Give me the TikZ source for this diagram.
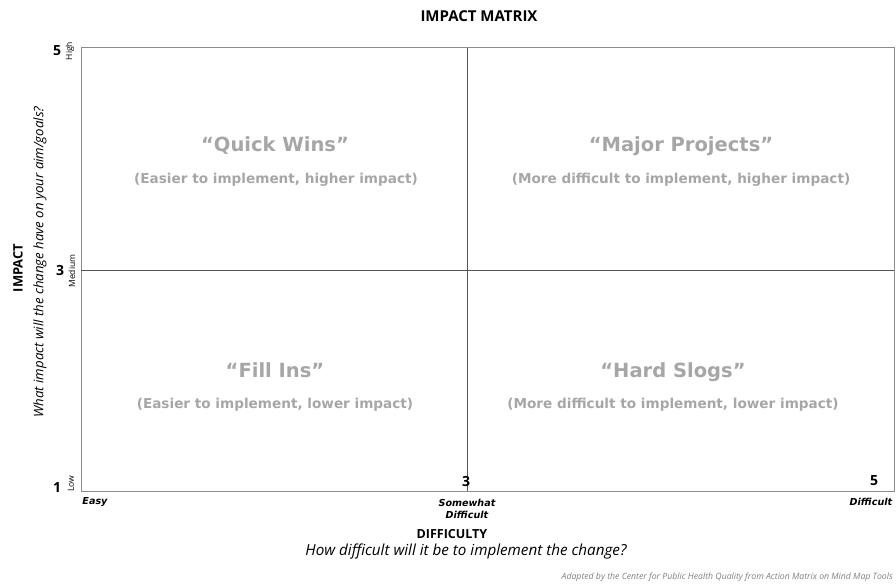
\documentclass[tikz,border=0pt]{standalone}
\usepackage{fontspec}
\setmainfont{Open Sans}
\newfontfamily\heavy{DejaVu Sans}
\definecolor{qgray}{HTML}{A6A6A6}
\definecolor{boxgray}{HTML}{8C8C8C}
\definecolor{midgray}{HTML}{555555}
\begin{document}
\begin{tikzpicture}[x=1pt,y=-1pt,
  qtitle/.style={text=qgray,font=\heavy\bfseries\fontsize{19.5}{22}\selectfont,inner sep=0pt,anchor=base},
  qsub/.style={text=qgray,font=\heavy\bfseries\fontsize{13.6}{15}\selectfont,inner sep=0pt},
  num/.style={font=\bfseries\fontsize{14}{16}\selectfont,inner sep=0pt},
  tick/.style={font=\fontsize{8.5}{9}\selectfont,rotate=90,inner sep=0pt},
  xlab/.style={font=\heavy\bfseries\itshape\fontsize{9.6}{12}\selectfont,inner sep=0pt,align=center}]
\useasboundingbox (0,0) rectangle (896,588);
\draw[boxgray,line width=1pt] (81,48) rectangle (894,491);
\coordinate (vt) at (467,48); \coordinate (vb) at (467,491);
\coordinate (hl) at (81,270); \coordinate (hr) at (894,270);
\draw[midgray,line width=0.9pt] (vt) -- (vb);
\draw[midgray,line width=0.9pt] (hl) -- (hr);
\node[font=\bfseries\fontsize{15}{17}\selectfont,inner sep=0pt] (title) at (479,16) {IMPACT MATRIX};
\node[qtitle] (qw) at (275,152) {“Quick Wins”};
\node[qsub] (qws) at (276,180) {(Easier to implement, higher impact)};
\node[qtitle] (mp) at (681,152) {“Major Projects”};
\node[qsub] (mps) at (681,180) {(More difficult to implement, higher impact)};
\node[qtitle] (fi) at (275,377) {“Fill Ins”};
\node[qsub] (fis) at (275,405) {(Easier to implement, lower impact)};
\node[qtitle] (hs) at (673,377) {“Hard Slogs”};
\node[qsub] (hss) at (673,405) {(More difficult to implement, lower impact)};
\node[font=\bfseries\fontsize{13}{15}\selectfont,rotate=90,inner sep=0pt] (yl) at (18,268) {IMPACT};
\node[font=\itshape\fontsize{13.2}{15}\selectfont,rotate=90,inner sep=0pt] (yq) at (40,262) {What impact will the change have on your aim/goals?};
\node[num] (n5) at (57,51) {5};
\node[num] (n3) at (60,270) {3};
\node[num] (n1) at (57,487) {1};
\node[tick] (hi) at (70,51) {High};
\node[tick] (me) at (72,271) {Medium};
\node[tick] (lo) at (71,484) {Low};
\node[num] (b3) at (466,481) {3};
\node[num] (b5) at (874,481) {5};
\node[xlab] (easy) at (95,502) {Easy};
\node[xlab] (sw) at (467,509) {Somewhat\\Difficult};
\node[xlab] (diff) at (871,502) {Difficult};
\node[font=\bfseries\fontsize{12.5}{15}\selectfont,inner sep=0pt] (xl) at (452,534) {DIFFICULTY};
\node[font=\itshape\fontsize{15.2}{17}\selectfont,inner sep=0pt] (xq) at (466,552) {How difficult will it be to implement the change?};
\node[font=\itshape\fontsize{8.7}{10}\selectfont,text=gray,anchor=east,inner sep=0pt] (cr) at (893,577) {Adapted by the Center for Public Health Quality from Action Matrix on Mind Map Tools};
\end{tikzpicture}
\end{document}
